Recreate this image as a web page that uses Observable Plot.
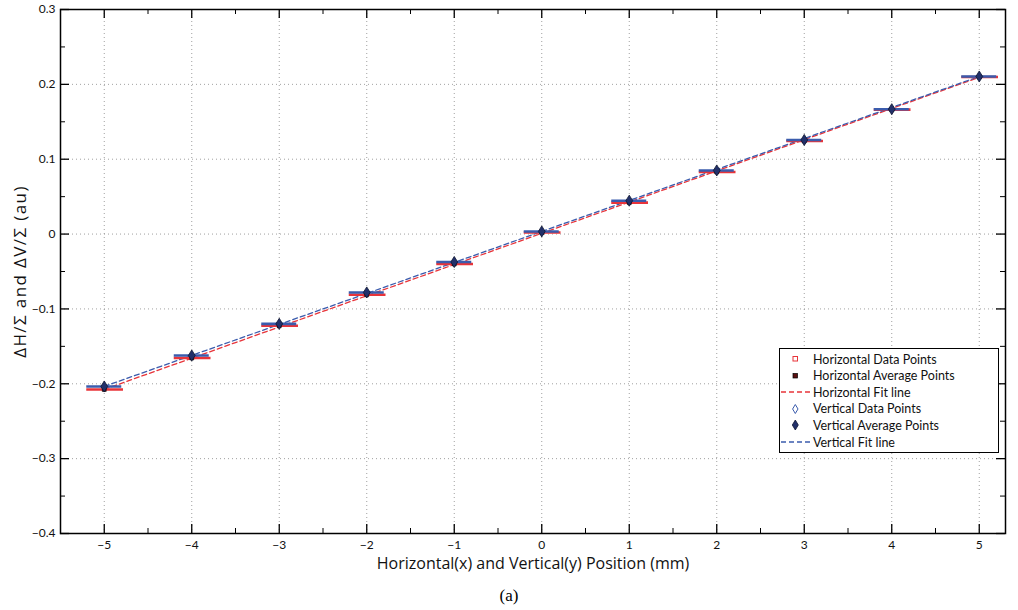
<!DOCTYPE html>
<html>
<head>
<meta charset="utf-8">
<script src="https://cdn.jsdelivr.net/npm/d3@7"></script>
<script src="https://cdn.jsdelivr.net/npm/@observablehq/plot@0.6"></script>
<style>
  body { margin: 0; background: #fff; font-family: Lato, "Open Sans", sans-serif; }
  #wrap { position: relative; width: 1018px; height: 610px; }
  #legend { position: absolute; left: 779px; top: 348px; width: 220px; height: 105px;
            background: #fff; border: 1.3px solid #000; box-sizing: border-box; font-size: 12.5px; }
  #legend .row { position: absolute; left: 0; height: 16px; display: flex; align-items: center; }
  #legend svg { width: 32px; height: 16px; }
  #legend span { margin-left: 1px; color: #111; }
  #caption { position: absolute; left: 0; width: 1018px; top: 586px; text-align: center;
             font-family: "Liberation Serif", "DejaVu Serif", serif; font-size: 17px; }
</style>
</head>
<body>
<div id="wrap">
  <div id="chart"></div>
  <div id="legend"></div>
  <div id="caption">(a)</div>
</div>
<script>
// Positions (mm)
const positions = [-5, -4, -3, -2, -1, 0, 1, 2, 3, 4, 5];
// Horizontal (red) measured values ΔH/Σ
const horizontalValues = [-0.2076, -0.1656, -0.1225, -0.0811, -0.0400, 0.0021, 0.0420, 0.0830, 0.1243, 0.1662, 0.2098];
// Vertical (blue) measured values ΔV/Σ
const verticalValues = [-0.2036, -0.1622, -0.1199, -0.0780, -0.0373, 0.0035, 0.0446, 0.0850, 0.1257, 0.1668, 0.2105];
// Fit line end points
const fitX = [-5, 5];
const horizontalFitY = [-0.2075, 0.2095];
const verticalFitY = [-0.2035, 0.2105];
// Tick values
const xTicks = [-5, -4, -3, -2, -1, 0, 1, 2, 3, 4, 5];
const xMinorTicks = [-5.5, -4.5, -3.5, -2.5, -1.5, -0.5, 0.5, 1.5, 2.5, 3.5, 4.5];
const yTicks = [0.3, 0.2, 0.1, 0, -0.1, -0.2, -0.3, -0.4];
const yMinorTicks = [0.25, 0.15, 0.05, -0.05, -0.15, -0.25, -0.35];

const RED = "#e8343a", BLUE = "#3b5cad", NAVY = "#22306a";
const spread = 0.2;

const W = 1018, H = 578, MT = 9, ML = 60, MR = 13, MB = 45;
const innerH = H - MT - MB, innerW = W - ML - MR;
const majorLen = 9, minorLen = 5;

const hData = positions.map((x, i) => ({x, y: horizontalValues[i]}));
const vData = positions.map((x, i) => ({x, y: verticalValues[i]}));
const hFit = fitX.map((x, i) => ({x, y: horizontalFitY[i]}));
const vFit = fitX.map((x, i) => ({x, y: verticalFitY[i]}));

const tallDiamond = {
  draw(ctx, size) {
    const r = Math.sqrt(size);
    const w = r * 0.42, h = r * 0.68;
    ctx.moveTo(0, -h); ctx.lineTo(w, 0); ctx.lineTo(0, h); ctx.lineTo(-w, 0); ctx.closePath();
  }
};

const fmtY = d => d === 0 ? "0" : d3.format(".1f")(d);
const fmtX = d => d === 0 ? "0" : d3.format("d")(d);

const chart = Plot.plot({
  width: W,
  height: H,
  marginTop: MT,
  marginLeft: ML,
  marginRight: MR,
  marginBottom: MB,
  style: {fontFamily: "Lato, 'Open Sans', sans-serif", fontSize: "12px", color: "#111"},
  x: {domain: [-5.5, 5.3]},
  y: {domain: [-0.4, 0.3]},
  marks: [
    Plot.gridX(xTicks, {stroke: "#888", strokeOpacity: 0.8, strokeDasharray: "1,3"}),
    Plot.gridY(yTicks, {stroke: "#888", strokeOpacity: 0.8, strokeDasharray: "1,3"}),
    // inward tick marks (MATLAB style box)
    Plot.tickX(xTicks, {x: d => d, insetTop: innerH - majorLen, stroke: "#000", strokeWidth: 1.3}),
    Plot.tickX(xTicks, {x: d => d, insetBottom: innerH - majorLen, stroke: "#000", strokeWidth: 1.3}),
    Plot.tickX(xMinorTicks, {x: d => d, insetTop: innerH - minorLen, stroke: "#000"}),
    Plot.tickX(xMinorTicks, {x: d => d, insetBottom: innerH - minorLen, stroke: "#000"}),
    Plot.tickY(yTicks, {y: d => d, insetRight: innerW - majorLen, stroke: "#000", strokeWidth: 1.3}),
    Plot.tickY(yTicks, {y: d => d, insetLeft: innerW - majorLen, stroke: "#000", strokeWidth: 1.3}),
    Plot.tickY(yMinorTicks, {y: d => d, insetRight: innerW - minorLen, stroke: "#000"}),
    Plot.tickY(yMinorTicks, {y: d => d, insetLeft: innerW - minorLen, stroke: "#000"}),
    Plot.line(hFit, {x: "x", y: "y", stroke: RED, strokeWidth: 1.3, strokeDasharray: "5,3"}),
    Plot.line(vFit, {x: "x", y: "y", stroke: BLUE, strokeWidth: 1.3, strokeDasharray: "5,3"}),
    Plot.ruleY(hData, {y: "y", x1: d => d.x - spread, x2: d => d.x + spread + 0.02, stroke: RED, strokeWidth: 2.6}),
    Plot.ruleY(vData, {y: "y", x1: d => d.x - spread, x2: d => d.x + spread, stroke: BLUE, strokeWidth: 2.6}),
    Plot.dot(hData, {x: "x", y: "y", symbol: "square", r: 2.2, fill: "#5a1010", stroke: "#000", strokeWidth: 0.6}),
    Plot.dot(vData, {x: "x", y: "y", symbol: tallDiamond, r: 4.6, fill: NAVY, stroke: "#0d1430", strokeWidth: 0.8}),
    Plot.axisX(xTicks, {anchor: "bottom", tickSize: 0, tickPadding: 7, tickFormat: fmtX,
      label: "Horizontal(x) and Vertical(y) Position (mm)", labelAnchor: "center", labelArrow: "none", labelOffset: 35}),
    Plot.axisY(yTicks, {anchor: "left", tickSize: 0, tickPadding: 5, tickFormat: fmtY,
      label: "ΔH/Σ and ΔV/Σ (au)", labelAnchor: "center", labelArrow: "none", labelOffset: 47}),
    Plot.frame({stroke: "#000", strokeWidth: 1.5})
  ]
});
document.getElementById("chart").appendChild(chart);

// axis titles
chart.querySelectorAll("g[aria-label='x-axis label'] text").forEach(t => {
  t.style.fontSize = "16px";
  t.style.fontFamily = "'Open Sans', Lato, sans-serif";
});
chart.querySelectorAll("g[aria-label='y-axis label'] text").forEach(t => {
  t.style.fontSize = "17px";
  t.style.fontFamily = "'Open Sans', Lato, sans-serif";
  t.style.letterSpacing = "1.4px";
});

// Legend
const legendItems = [
  {label: "Horizontal Data Points", icon: `<rect x="13" y="5.5" width="4.5" height="4.5" fill="none" stroke="${RED}" stroke-width="1"/>`},
  {label: "Horizontal Average Points", icon: `<rect x="13" y="5.5" width="4.5" height="4.5" fill="#5a1010" stroke="#000" stroke-width="0.7"/>`},
  {label: "Horizontal Fit line", icon: `<line x1="1" y1="8" x2="32" y2="8" stroke="${RED}" stroke-width="1.3" stroke-dasharray="5,3"/>`},
  {label: "Vertical Data Points", icon: `<path d="M15.3,3.5L18,8L15.3,12.5L12.6,8Z" fill="none" stroke="${BLUE}" stroke-width="1"/>`},
  {label: "Vertical Average Points", icon: `<path d="M15.3,3L18.3,8L15.3,13L12.3,8Z" fill="${NAVY}" stroke="#0d1430" stroke-width="0.8"/>`},
  {label: "Vertical Fit line", icon: `<line x1="1" y1="8" x2="32" y2="8" stroke="${BLUE}" stroke-width="1.3" stroke-dasharray="5,3"/>`}
];
const legend = document.getElementById("legend");
legendItems.forEach((item, i) => {
  const row = document.createElement("div");
  row.className = "row";
  row.style.top = (2 + i * 16.6) + "px";
  row.innerHTML = `<svg viewBox="0 0 32 16">${item.icon}</svg><span>${item.label}</span>`;
  legend.appendChild(row);
});
</script>
</body>
</html>
